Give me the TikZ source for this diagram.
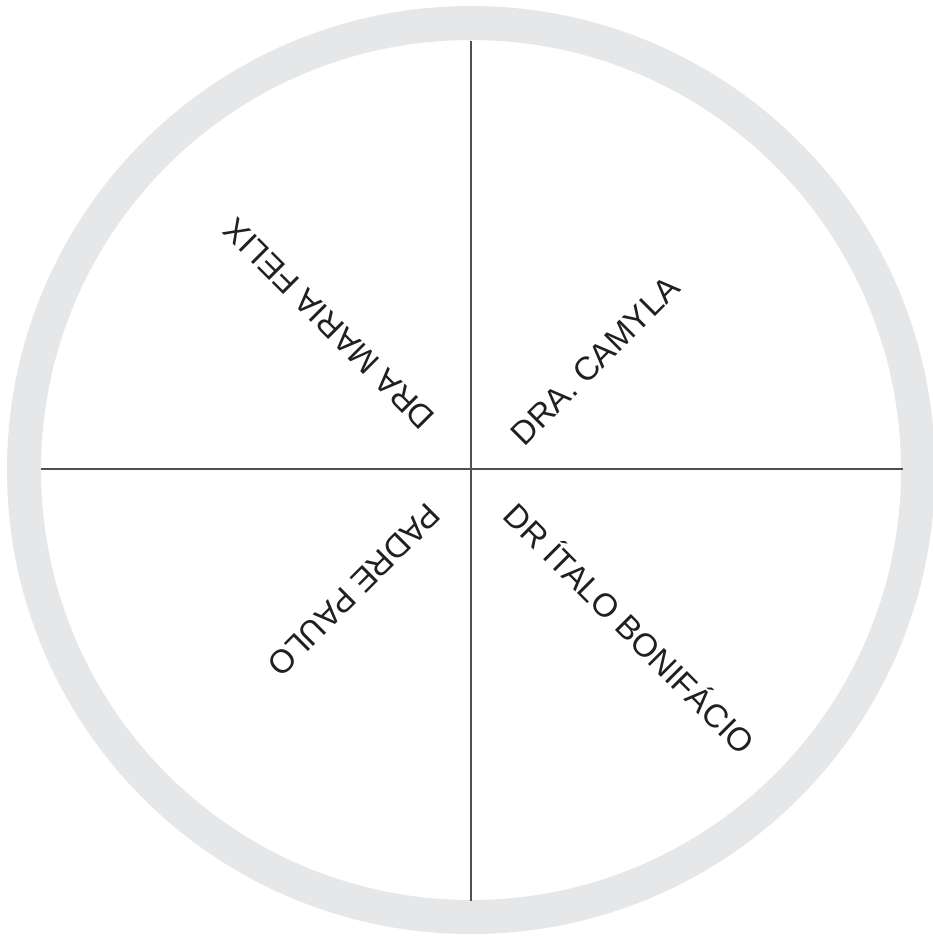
\documentclass[tikz,border=0pt]{standalone}
\usepackage{fontspec}
\setmainfont{Liberation Sans}
\definecolor{ringgray}{HTML}{E6E7E8}
\definecolor{linegray}{HTML}{505050}
\definecolor{txt}{HTML}{231F20}
\begin{document}
\begin{tikzpicture}[x=1pt,y=-1pt,
  ring/.style={draw=ringgray,line width=34pt},
  divider/.style={draw=linegray,line width=1.6pt},
  label/.style={inner sep=0pt,text=txt,font=\fontsize{32.8}{38}\selectfont}]
\useasboundingbox (0,0) rectangle (933,938);
\fill[white] (0,0) rectangle (933,938);
\coordinate (c) at (471,470);
\draw[ring] (c) circle[radius=447];
\coordinate (top) at (471,41);
\coordinate (bottom) at (471,901);
\coordinate (left) at (41,469);
\coordinate (right) at (903,469);
\draw[divider] (top) -- (bottom);
\draw[divider] (left) -- (right);
\node[label,rotate=135] (maria) at (329,324) {DRA MARIA FELIX};
\node[label,rotate=45] (camyla) at (595,361) {DRA. CAMYLA};
\node[label,rotate=225] (paulo) at (354,590) {PADRE PAULO};
\node[label,rotate=-45] (italo) at (631,627) {DR ÍTALO BONIFÁCIO};
\end{tikzpicture}
\end{document}
